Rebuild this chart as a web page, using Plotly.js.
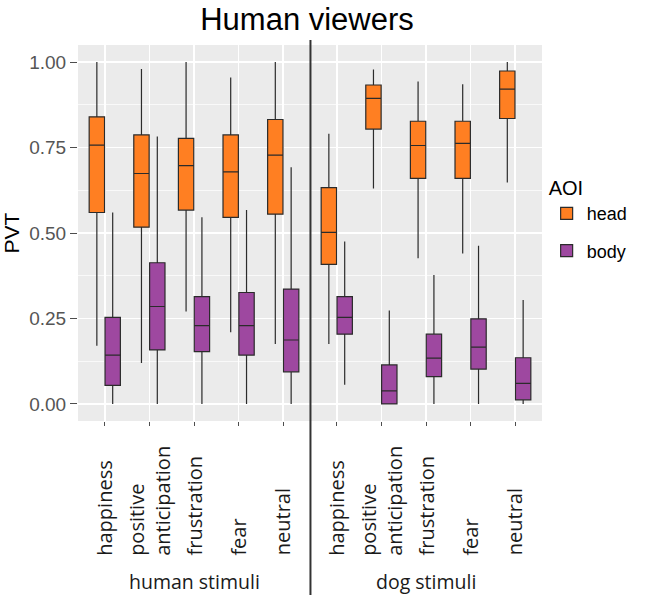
<!DOCTYPE html>
<html>
<head>
<meta charset="utf-8">
<script src="https://cdn.plot.ly/plotly-3.0.1.min.js"></script>
<style>
  body { margin: 0; background: #fff; }
  #plot { width: 645px; height: 598px; }
</style>
</head>
<body>
<div id="plot"></div>
<script>
// AOI categories and emotion categories
const aois = ["head", "body"];
const emotions = ["happiness", "positive anticipation", "frustration", "fear", "neutral"];
const stimuli = ["human stimuli", "dog stimuli"];

// box summaries per emotion: [lower whisker, q1, median, q3, upper whisker]
const humanHead = [
    [0.17, 0.56, 0.757, 0.84, 1.00],
    [0.12, 0.517, 0.674, 0.787, 0.98],
    [0.27, 0.567, 0.697, 0.777, 1.00],
    [0.21, 0.546, 0.679, 0.787, 0.955],
    [0.175, 0.555, 0.728, 0.832, 1.00]
];
const humanBody = [
    [0.00, 0.054, 0.143, 0.253, 0.56],
    [0.00, 0.158, 0.285, 0.413, 0.782],
    [0.00, 0.153, 0.229, 0.314, 0.546],
    [0.00, 0.143, 0.229, 0.326, 0.567],
    [0.00, 0.094, 0.187, 0.336, 0.692]
];
const dogHead = [
    [0.175, 0.408, 0.502, 0.633, 0.79],
    [0.63, 0.804, 0.894, 0.933, 0.978],
    [0.426, 0.66, 0.756, 0.827, 0.943],
    [0.44, 0.66, 0.762, 0.827, 0.935],
    [0.648, 0.835, 0.921, 0.974, 1.00]
];
const dogBody = [
    [0.056, 0.204, 0.253, 0.314, 0.475],
    [0.00, 0.00, 0.038, 0.114, 0.273],
    [0.00, 0.08, 0.134, 0.204, 0.377],
    [0.00, 0.102, 0.166, 0.249, 0.463],
    [0.00, 0.012, 0.06, 0.135, 0.304]
];
const yTicks = [0, 0.25, 0.5, 0.75, 1];

const colors = { head: "#FF7F22", body: "#9E48A0" };

function boxTrace(rows, aoi, xaxis, showLegend) {
    return {
        type: "box",
        name: aoi,
        legendgroup: aoi,
        offsetgroup: aoi,
        alignmentgroup: xaxis,
        showlegend: showLegend,
        x: emotions,
        lowerfence: rows.map(r => r[0]),
        q1: rows.map(r => r[1]),
        median: rows.map(r => r[2]),
        q3: rows.map(r => r[3]),
        upperfence: rows.map(r => r[4]),
        boxpoints: false,
        whiskerwidth: 0,
        fillcolor: colors[aoi],
        line: { color: "#2b2b2b", width: 1.2 },
        xaxis: xaxis,
        yaxis: "y",
        hoverinfo: "skip"
    };
}

const traces = [
    boxTrace(humanHead, "head", "x", true),
    boxTrace(humanBody, "body", "x", true),
    boxTrace(dogHead, "head", "x2", false),
    boxTrace(dogBody, "body", "x2", false)
];

// rotated category labels, read bottom to top
const annotations = [];
["x", "x2"].forEach((ax, i) => {
    emotions.forEach(e => {
        annotations.push({
            text: e.replace(" ", "<br>"),
            x: e, xref: ax,
            y: -0.363, yref: "paper",
            yanchor: "bottom", xanchor: "center",
            textangle: -90, align: "left",
            showarrow: false,
            font: { family: "Open Sans", size: 20, color: "#1a1a1a" }
        });
    });
    annotations.push({
        text: stimuli[i],
        x: 0.5, xref: ax + " domain",
        y: -0.426, yref: "paper", yanchor: "middle",
        showarrow: false,
        font: { family: "Open Sans", size: 19.5, color: "#1a1a1a" }
    });
});

const xaxisBase = {
    type: "category",
    range: [-0.6, 4.6],
    showticklabels: false,
    ticks: "outside", ticklen: 4, tickwidth: 1, tickcolor: "#4d4d4d",
    showgrid: true, gridcolor: "#ffffff", gridwidth: 1.5,
    zeroline: false, showline: false,
    fixedrange: true
};

const layout = {
    width: 645, height: 598,
    margin: { l: 78, r: 100, t: 45, b: 177 },
    paper_bgcolor: "#ffffff",
    plot_bgcolor: "#EBEBEB",
    font: { family: "Liberation Sans, Arial, sans-serif" },
    title: {
        text: "Human viewers",
        font: { size: 31, color: "#000" },
        x: 307 / 645, xanchor: "center",
        y: 0.968, yanchor: "middle"
    },
    boxmode: "group",
    boxgap: 0.29,
    boxgroupgap: 0.03,
    xaxis: Object.assign({ domain: [0, 0.5], anchor: "y" }, xaxisBase),
    xaxis2: Object.assign({ domain: [0.5, 1], anchor: "y" }, xaxisBase),
    yaxis: {
        title: { text: "PVT", font: { size: 21, color: "#000" }, standoff: 8 },
        range: [-0.05, 1.05],
        tickvals: yTicks,
        ticktext: yTicks.map(v => v.toFixed(2)),
        ticks: "outside", ticklen: 7, tickwidth: 1, tickcolor: "#4d4d4d",
        tickfont: { size: 19, color: "#555" },
        showgrid: true, gridcolor: "#ffffff", gridwidth: 1.5,
        minor: { dtick: 0.125, tick0: 0.125, showgrid: true, gridcolor: "#ffffff", gridwidth: 0.7 },
        zeroline: false, showline: false,
        fixedrange: true
    },
    legend: {
        title: { text: "AOI", font: { size: 20, color: "#000" } },
        font: { size: 18, color: "#000" },
        x: 1.01, xanchor: "left",
        y: 0.67, yanchor: "top",
        tracegroupgap: 11,
        bgcolor: "rgba(0,0,0,0)"
    },
    shapes: [{
        type: "line", xref: "paper", yref: "paper",
        x0: 0.501, x1: 0.501, y0: 1.013, y1: -0.463,
        line: { color: "#333", width: 2 }
    }],
    annotations: annotations
};

Plotly.newPlot("plot", traces, layout, { displayModeBar: false, staticPlot: true });
</script>
</body>
</html>
